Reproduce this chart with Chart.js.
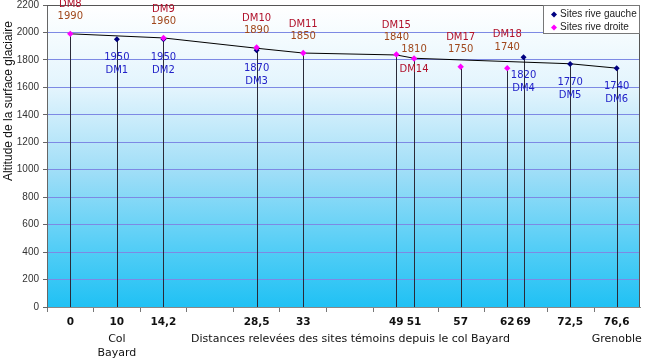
<!DOCTYPE html>
<html><head><meta charset="utf-8">
<script src="https://cdn.jsdelivr.net/npm/chart.js@4.4.1/dist/chart.umd.min.js"></script>
<style>html,body{margin:0;padding:0;background:#fff;overflow:hidden}#wrap{width:646px;height:361px;position:relative}</style>
</head><body><div id="wrap"><canvas id="c"></canvas></div>
<script>
// ---- data ----
const distanceLabels = ["0","10","14,2","28,5","33","49","51","57","62","69","72,5","76,6"];
const placeNames     = ["","Col\nBayard","","","","","","","","","","Grenoble"];
const sitePositions  = [0,1,2,4,5,7,7.38,8.38,9.38,9.73,10.73,11.73];
const axisTickPositions = [-0.5,0.5,1.5,2.5,3.5,4.5,5.5,6.5,7.9,8.9,10.25,11.25];

const gaucheNames     = ["DM1","DM2","DM3","DM4","DM5","DM6"];
const gaucheSiteIdx   = [1,2,3,9,10,11];
const gaucheAltitudes = [1950,1950,1870,1820,1770,1740];

const droiteNames     = ["DM8","DM9","DM10","DM11","DM15","DM14","DM17","DM18"];
const droiteSiteIdx   = [0,2,3,4,5,6,7,8];
const droiteAltitudes = [1990,1960,1890,1850,1840,1810,1750,1740];

const surfaceSiteIdx   = [0,2,3,4,5,6,10,11];
const surfaceAltitudes = [1990,1960,1885,1850,1836,1812,1772,1740];

const seriesLabels = ["Sites rive gauche","Sites rive droite"];
const xTitle = "Distances relevées des sites témoins depuis le col Bayard";
const yTitle = "Altitude de la surface glaciaire";

// ---- presentation ----
const labelPlacement = { DM14: "split", DM18: "high" };
const COL_GAUCHE = "#000080", COL_DROITE = "#FF00FF";
const COL_BLUE_TXT = "#2222C8", COL_RED_TXT = "#B0102A", COL_BROWN_TXT = "#A0481C";

const toPoints = (idx, vals) => idx.map((k, i) => ({ x: sitePositions[k], y: vals[i] }));

const decor = {
  id: "decor",
  beforeDraw(chart) {
    const { ctx, chartArea: a } = chart;
    const g = ctx.createLinearGradient(0, a.top, 0, a.bottom);
    g.addColorStop(0, "#FFFFFF");
    g.addColorStop(0.28, "#E2F4FD");
    g.addColorStop(0.55, "#A0DEF7");
    g.addColorStop(0.8, "#55CEF6");
    g.addColorStop(1, "#20C1F4");
    ctx.save();
    ctx.fillStyle = g;
    ctx.fillRect(a.left, a.top, a.right - a.left, a.bottom - a.top);
    ctx.restore();
  },
  beforeDatasetsDraw(chart) {
    const { ctx, chartArea: a } = chart;
    ctx.save();
    ctx.strokeStyle = "#2A2A38";
    ctx.lineWidth = 1;
    [0, 1].forEach(di => {
      chart.getDatasetMeta(di).data.forEach(el => {
        const x = Math.round(el.x) + 0.5;
        ctx.beginPath(); ctx.moveTo(x, el.y); ctx.lineTo(x, a.bottom); ctx.stroke();
      });
    });
    ctx.restore();
  },
  afterDatasetsDraw(chart) {
    const { ctx, chartArea: a } = chart;
    ctx.save();
    ctx.strokeStyle = "#555"; ctx.lineWidth = 1;
    ctx.beginPath();
    ctx.moveTo(a.left, a.top + 0.5); ctx.lineTo(a.right - 0.5, a.top + 0.5); ctx.lineTo(a.right - 0.5, a.bottom);
    ctx.stroke();

    ctx.textAlign = "center"; ctx.textBaseline = "middle";
    ctx.font = '10px "DejaVu Sans"';
    chart.getDatasetMeta(0).data.forEach((el, i) => {
      const name = droiteNames[i], val = String(droiteAltitudes[i]);
      const p = labelPlacement[name];
      let ny = el.y - 29, vy = el.y - 17;
      if (p === "split") { vy = el.y - 9; ny = el.y + 11; }
      if (p === "high") { vy = el.y - 21; ny = el.y - 34; }
      ctx.fillStyle = COL_RED_TXT; ctx.fillText(name, el.x, ny);
      ctx.fillStyle = COL_BROWN_TXT; ctx.fillText(val, el.x, vy);
    });
    chart.getDatasetMeta(1).data.forEach((el, i) => {
      ctx.fillStyle = COL_BLUE_TXT;
      ctx.fillText(String(gaucheAltitudes[i]), el.x, el.y + 18);
      ctx.fillText(gaucheNames[i], el.x, el.y + 31);
    });

    const xs = chart.scales.x;
    distanceLabels.forEach((lab, i) => {
      const x = xs.getPixelForValue(sitePositions[i]);
      ctx.fillStyle = "#111";
      ctx.font = 'bold 10.5px "DejaVu Sans"';
      ctx.fillText(lab, x, a.bottom + 15);
      ctx.font = '11px "DejaVu Sans"';
      placeNames[i].split("\n").filter(s => s).forEach((s, j) => ctx.fillText(s, x, a.bottom + 32 + j * 14));
    });
    ctx.font = '11px "DejaVu Sans"';
    ctx.fillText(xTitle, (a.left + a.right) / 2 + 7, a.bottom + 32);

    ctx.save();
    ctx.translate(a.left - 38, a.top + 96);
    ctx.rotate(-Math.PI / 2);
    ctx.font = '12px "Liberation Sans"';
    ctx.fillStyle = "#111";
    ctx.fillText(yTitle, 0, 0);
    ctx.restore();

    const lw = 97, lh = 29, lx = a.right - lw, ly = a.top;
    ctx.fillStyle = "#fff";
    ctx.fillRect(lx, ly, lw, lh);
    ctx.strokeStyle = "#777";
    ctx.strokeRect(lx + 0.5, ly + 0.5, lw - 1, lh - 1);
    ctx.font = '10px "Liberation Sans"';
    ctx.textAlign = "left";
    [[COL_GAUCHE, seriesLabels[0]], [COL_DROITE, seriesLabels[1]]].forEach(([c, t], k) => {
      const cy = ly + 9.5 + k * 13;
      ctx.fillStyle = c;
      ctx.beginPath();
      ctx.moveTo(lx + 11, cy - 3); ctx.lineTo(lx + 14, cy); ctx.lineTo(lx + 11, cy + 3); ctx.lineTo(lx + 8, cy);
      ctx.closePath(); ctx.fill();
      ctx.fillStyle = "#222";
      ctx.fillText(t, lx + 17, cy);
    });
    ctx.restore();
  }
};

new Chart(document.getElementById("c"), {
  type: "scatter",
  data: {
    datasets: [
      { label: seriesLabels[1], data: toPoints(droiteSiteIdx, droiteAltitudes), showLine: false,
        pointStyle: "rectRot", pointRadius: 3.2, backgroundColor: COL_DROITE, borderColor: COL_DROITE, borderWidth: 0, order: 0 },
      { label: seriesLabels[0], data: toPoints(gaucheSiteIdx, gaucheAltitudes), showLine: false,
        pointStyle: "rectRot", pointRadius: 3, backgroundColor: COL_GAUCHE, borderColor: COL_GAUCHE, borderWidth: 0, order: 1 },
      { label: "surface", data: toPoints(surfaceSiteIdx, surfaceAltitudes), showLine: true,
        borderColor: "#000", borderWidth: 1, pointRadius: 0, fill: false, tension: 0, order: 2 }
    ]
  },
  options: {
    responsive: true, maintainAspectRatio: false, animation: false,
    layout: { padding: { top: 5, right: 6, left: 0, bottom: 0 } },
    plugins: { legend: { display: false }, tooltip: { enabled: false } },
    scales: {
      x: {
        type: "linear", min: -0.5, max: 12.23,
        afterBuildTicks: s => { s.ticks = axisTickPositions.map(v => ({ value: v })); },
        ticks: { display: false },
        grid: { drawOnChartArea: false, drawTicks: true, tickLength: 5, color: "#777" },
        border: { color: "#888" },
        afterFit: s => { s.height = 54; s.paddingLeft = 0; s.paddingRight = 0; }
      },
      y: {
        min: 0, max: 2200,
        ticks: { stepSize: 200, font: { family: "Liberation Sans", size: 10 }, color: "#333", padding: 4,
                 callback: v => String(v) },
        grid: { color: c => (c.tick && c.tick.value === 2200) ? "#555" : "#7D89E4", tickColor: "#666", tickLength: 4 },
        border: { color: "#666" },
        afterFit: s => { s.width = 47; s.paddingTop = 0; s.paddingBottom = 0; }
      }
    }
  },
  plugins: [decor]
});
</script>
</body></html>
